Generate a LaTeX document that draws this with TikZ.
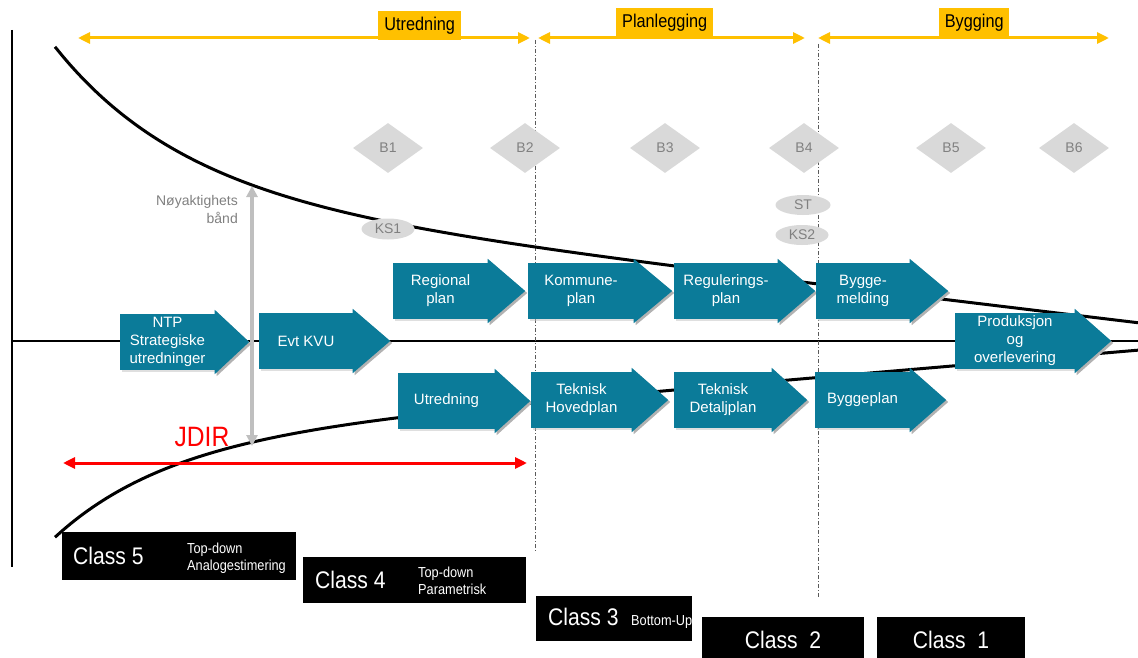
\documentclass[tikz,border=0pt]{standalone}
\usepackage{fontspec}
\setmainfont{Liberation Sans}
\newfontfamily\condfont[FakeStretch=0.88]{Liberation Sans}
\usetikzlibrary{arrows.meta,shapes.geometric,shadows,calc}
\definecolor{proc}{RGB}{11,123,153}
\definecolor{phase}{RGB}{255,192,0}
\definecolor{msgray}{RGB}{217,217,217}
\definecolor{txtgray}{RGB}{128,128,128}
\definecolor{bandgray}{RGB}{191,191,191}
\definecolor{dashgray}{RGB}{90,90,90}
\tikzset{
  curve/.style={line width=3pt, black},
  axis/.style={line width=2.6pt, black},
  phasearrow/.style={line width=3pt, phase, {Triangle[length=12pt,width=11pt]}-{Triangle[length=12pt,width=11pt]}},
  phaselbl/.style={fill=phase, inner sep=0pt, anchor=north west, font=\condfont\fontsize{18.5}{20}\selectfont},
  divider/.style={dashgray, line width=0.7pt, dash pattern=on 4pt off 2pt on 1pt off 2pt},
  milestone/.style={diamond, fill=msgray, minimum width=70pt, minimum height=50pt, inner sep=0pt, text=txtgray, font=\fontsize{14}{16}\selectfont},
  gate/.style={ellipse, fill=msgray, minimum width=53pt, minimum height=21pt, inner sep=0pt, text=txtgray, font=\fontsize{14}{16}\selectfont},
  procbody/.style={fill=proc, text=white, minimum height=56pt, inner sep=0pt, align=center,
    font=\fontsize{15}{18}\selectfont,
    drop shadow={shadow xshift=2pt, shadow yshift=-2pt, fill=black!25}},
  procshade/.style={fill=black!30},
  bandarrow/.style={line width=4pt, bandgray, {Triangle[length=11pt,width=11pt]}-{Triangle[length=11pt,width=11pt]}},
  jdirarrow/.style={line width=3pt, red, {Triangle[length=12pt,width=11pt]}-{Triangle[length=12pt,width=11pt]}},
  classbox/.style={fill=black, inner sep=0pt, anchor=north west},
  classbig/.style={text=white, inner sep=0pt, font=\condfont\fontsize{24}{26}\selectfont},
  classsmall/.style={text=white, inner sep=0pt, align=left, font=\condfont\fontsize{14.5}{17}\selectfont},
}
\newcommand\headpath[3]{($(#1.north east)+(-0.5,0)$) -- ($(#1.north east)+(-0.5,-4)$) -- ($(#1.east)+({#3-#2},0)$) -- ($(#1.south east)+(-0.5,4)$) -- ($(#1.south east)+(-0.5,0)$) -- cycle}
\newcommand\procarrow[6]{%
  \node[procbody, minimum width=#3pt-#2pt] (#1) at ({(#2+#3)/2},#5) {#6};
  \fill[procshade, transform canvas={shift={(2pt,-2pt)}}] \headpath{#1}{#3}{#4};
  \fill[proc] \headpath{#1}{#3}{#4};
}
\begin{document}
\begin{tikzpicture}[x=1pt,y=-1pt]
\useasboundingbox (0,0) rectangle (1138,658);
% axes
\coordinate (vtop) at (12,30);
\coordinate (vbot) at (12,567);
\coordinate (axl) at (12,341);
\coordinate (axr) at (1140,341);
\draw[axis] (vtop) -- (vbot);
\draw[axis] (axl) -- (axr);
% dividers
\coordinate (d1t) at (535,40);
\coordinate (d1b) at (535,552);
\coordinate (d2t) at (818,44);
\coordinate (d2b) at (818,597);
\draw[divider] (d1t) -- (d1b);
\draw[divider] (d2t) -- (d2b);
% funnel curves
\draw[curve] plot[domain=55:1140, samples=150, smooth] (\x, {341 - (0.12*(1140-\x) + 18 + 146*exp(-0.0078*(\x-55)))});
\draw[curve] plot[domain=55:1140, samples=150, smooth] (\x, {341 + 0.085*(1140-\x) + 9 + 95*exp(-0.0088*(\x-55))});
% phase arrows
\coordinate (p1a) at (78,38);
\coordinate (p1b) at (530,38);
\coordinate (p2a) at (538,38);
\coordinate (p2b) at (805,38);
\coordinate (p3a) at (818,38);
\coordinate (p3b) at (1109,38);
\draw[phasearrow] (p1a) -- (p1b);
\draw[phasearrow] (p2a) -- (p2b);
\draw[phasearrow] (p3a) -- (p3b);
\node[phaselbl, minimum width=83pt, minimum height=29pt] (lutr) at (378,11) {Utredning};
\node[phaselbl, minimum width=97pt, minimum height=29pt] (lplan) at (616,8) {Planlegging};
\node[phaselbl, minimum width=70pt, minimum height=29pt] (lbyg) at (939,8) {Bygging};
% milestones
\node[milestone] (b1) at (388,148) {B1};
\node[milestone] (b2) at (525,148) {B2};
\node[milestone] (b3) at (665,148) {B3};
\node[milestone] (b4) at (804,148) {B4};
\node[milestone] (b5) at (951,148) {B5};
\node[milestone] (b6) at (1074,148) {B6};
\node[gate] (ks1) at (388,229) {KS1};
\node[gate, minimum width=55pt, minimum height=20pt] (st) at (803,205) {ST};
\node[gate, minimum height=20pt] (ks2) at (802,235) {KS2};
% accuracy band
\coordinate (bt) at (252,186);
\coordinate (bb) at (252,446);
\draw[bandarrow] (bt) -- (bb);
\node[anchor=east, align=right, inner sep=0pt, text=txtgray, font=\fontsize{14}{18}\selectfont] (band) at (238,209) {Nøyaktighets\\bånd};
% JDIR
\node[text=red, inner sep=0pt, font=\condfont\fontsize{28}{30}\selectfont] (jdir) at (202,437) {JDIR};
\coordinate (ja) at (63,463);
\coordinate (jb) at (527,463);
\draw[jdirarrow] (ja) -- (jb);
% process arrows
\procarrow{ntp}{120}{215}{249}{342}{NTP\\Strategiske\\utredninger}
\procarrow{kvu}{259}{353}{390}{341}{Evt KVU}
\procarrow{reg}{393}{488}{525}{291}{Regional\\plan}
\procarrow{kom}{528}{634}{672}{291}{Kommune-\\plan}
\procarrow{rpl}{674}{778}{815}{291}{Regulerings-\\plan}
\procarrow{bmeld}{816}{910}{948}{291}{Bygge-\\melding}
\procarrow{prod}{955}{1075}{1111}{341}{Produksjon\\og\\overlevering}
\procarrow{utr}{398}{495}{530}{401}{Utredning}
\procarrow{tho}{531}{632}{668}{400}{Teknisk\\Hovedplan}
\procarrow{tde}{674}{772}{807}{400}{Teknisk\\Detaljplan}
\procarrow{bpl}{815}{910}{946}{400}{Byggeplan}
% classes
\node[classbox, minimum width=234pt, minimum height=48pt] (c5) at (62,532) {};
\node[classbig, anchor=west] (c5t) at (73,556) {Class 5};
\node[classsmall, anchor=west] (c5s) at (187,558) {Top-down\\Analogestimering};
\node[classbox, minimum width=223pt, minimum height=46pt] (c4) at (303,557) {};
\node[classbig, anchor=west] (c4t) at (315,580) {Class 4};
\node[classsmall, anchor=west] (c4s) at (418,581) {Top-down\\Parametrisk};
\node[classbox, minimum width=156pt, minimum height=45pt] (c3) at (536,596) {};
\node[classbig, anchor=west] (c3t) at (548,617) {Class 3};
\node[classsmall, anchor=west] (c3s) at (631,622) {Bottom-Up};
\node[classbox, minimum width=162pt, minimum height=46pt] (c2) at (702,617) {};
\node[classbig] (c2t) at (783,640) {Class\ \ 2};
\node[classbox, minimum width=148pt, minimum height=46pt] (c1) at (877,617) {};
\node[classbig] (c1t) at (951,640) {Class\ \ 1};
\end{tikzpicture}
\end{document}
